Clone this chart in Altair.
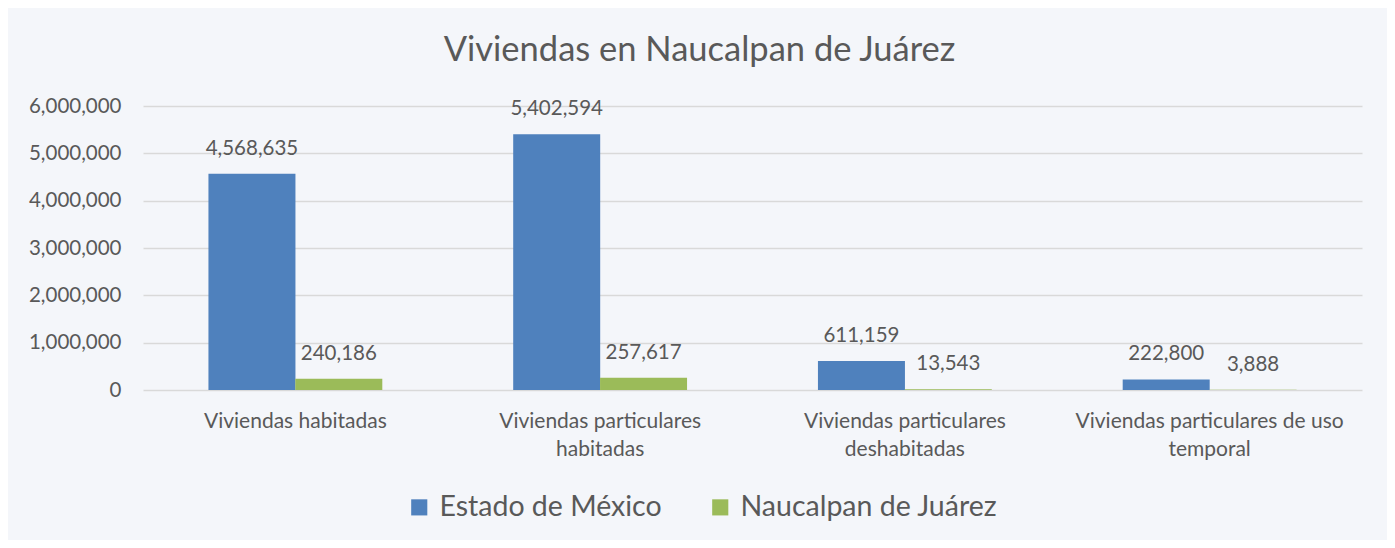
import altair as alt
import pandas as pd

categories = [
    "Viviendas habitadas",
    "Viviendas particulares habitadas",
    "Viviendas particulares deshabitadas",
    "Viviendas particulares de uso temporal",
]
wrapped = [
    ["Viviendas habitadas"],
    ["Viviendas particulares", "habitadas"],
    ["Viviendas particulares", "deshabitadas"],
    ["Viviendas particulares de uso", "temporal"],
]
series = ["Estado de México", "Naucalpan de Juárez"]
estado = [4568635, 5402594, 611159, 222800]
naucalpan = [240186, 257617, 13543, 3888]
colors = ["#4f81bd", "#9bbb59"]
yticks = [0, 1000000, 2000000, 3000000, 4000000, 5000000, 6000000]

rows = []
for c, a, b in zip(categories, estado, naucalpan):
    rows.append({"cat": c, "serie": series[0], "val": a})
    rows.append({"cat": c, "serie": series[1], "val": b})
df = pd.DataFrame(rows)

label_expr = ""
for c, w in zip(categories, wrapped):
    arr = "[" + ",".join("'" + s + "'" for s in w) + "]"
    label_expr += f"datum.label == '{c}' ? {arr} : "
label_expr += "datum.label"

FONT = "Lato"
GRAY = "#595959"

x = alt.X("cat:N", sort=categories, title=None,
          scale=alt.Scale(paddingInner=0.43, paddingOuter=0.215),
          axis=alt.Axis(labelExpr=label_expr, labelAngle=0, labelFontSize=21,
                        labelColor=GRAY, labelFont=FONT, ticks=False, domain=False,
                        labelPadding=20, labelLineHeight=28, labelLimit=400, grid=False))
xoff = alt.XOffset("serie:N", sort=series)
y = alt.Y("val:Q", title=None,
          scale=alt.Scale(domain=[0, 6000000]),
          axis=alt.Axis(values=yticks, format=",d", labelFontSize=20.5,
                        labelColor=GRAY, labelFont=FONT,
                        ticks=False, domain=False, labelPadding=22,
                        gridColor="#d9d9d9", gridWidth=1.3))
color = alt.Color("serie:N", sort=series,
                  scale=alt.Scale(domain=series, range=colors),
                  legend=alt.Legend(title=None, orient="none", direction="horizontal",
                                    legendX=262, legendY=387,
                                    symbolType="square", symbolSize=260,
                                    symbolStrokeWidth=0, labelLimit=400,
                                    labelFontSize=28.5, labelColor=GRAY, labelFont=FONT,
                                    columnPadding=44, labelOffset=6))

base = alt.Chart(df).encode(x=x, xOffset=xoff, y=y)
bars = base.mark_bar(size=87).encode(color=color)
labels = base.mark_text(dy=-25, fontSize=20.5, font=FONT, color=GRAY).encode(
    text=alt.Text("val:Q", format=",d"))

chart = (bars + labels).properties(
    width=1219, height=284,
    padding={"left": 135, "top": 98, "right": 25, "bottom": 150},
    autosize=alt.AutoSizeParams(type="none"),
    background="#f4f6fa",
    title=alt.TitleParams("Viviendas en Naucalpan de Juárez", fontSize=34.5,
                          font=FONT, fontWeight="normal", color=GRAY,
                          anchor="middle", dx=-53, offset=28),
).configure_view(stroke=None, fill="#f4f6fa")

chart.save("out.html", embed_options={"renderer": "svg", "actions": False})
